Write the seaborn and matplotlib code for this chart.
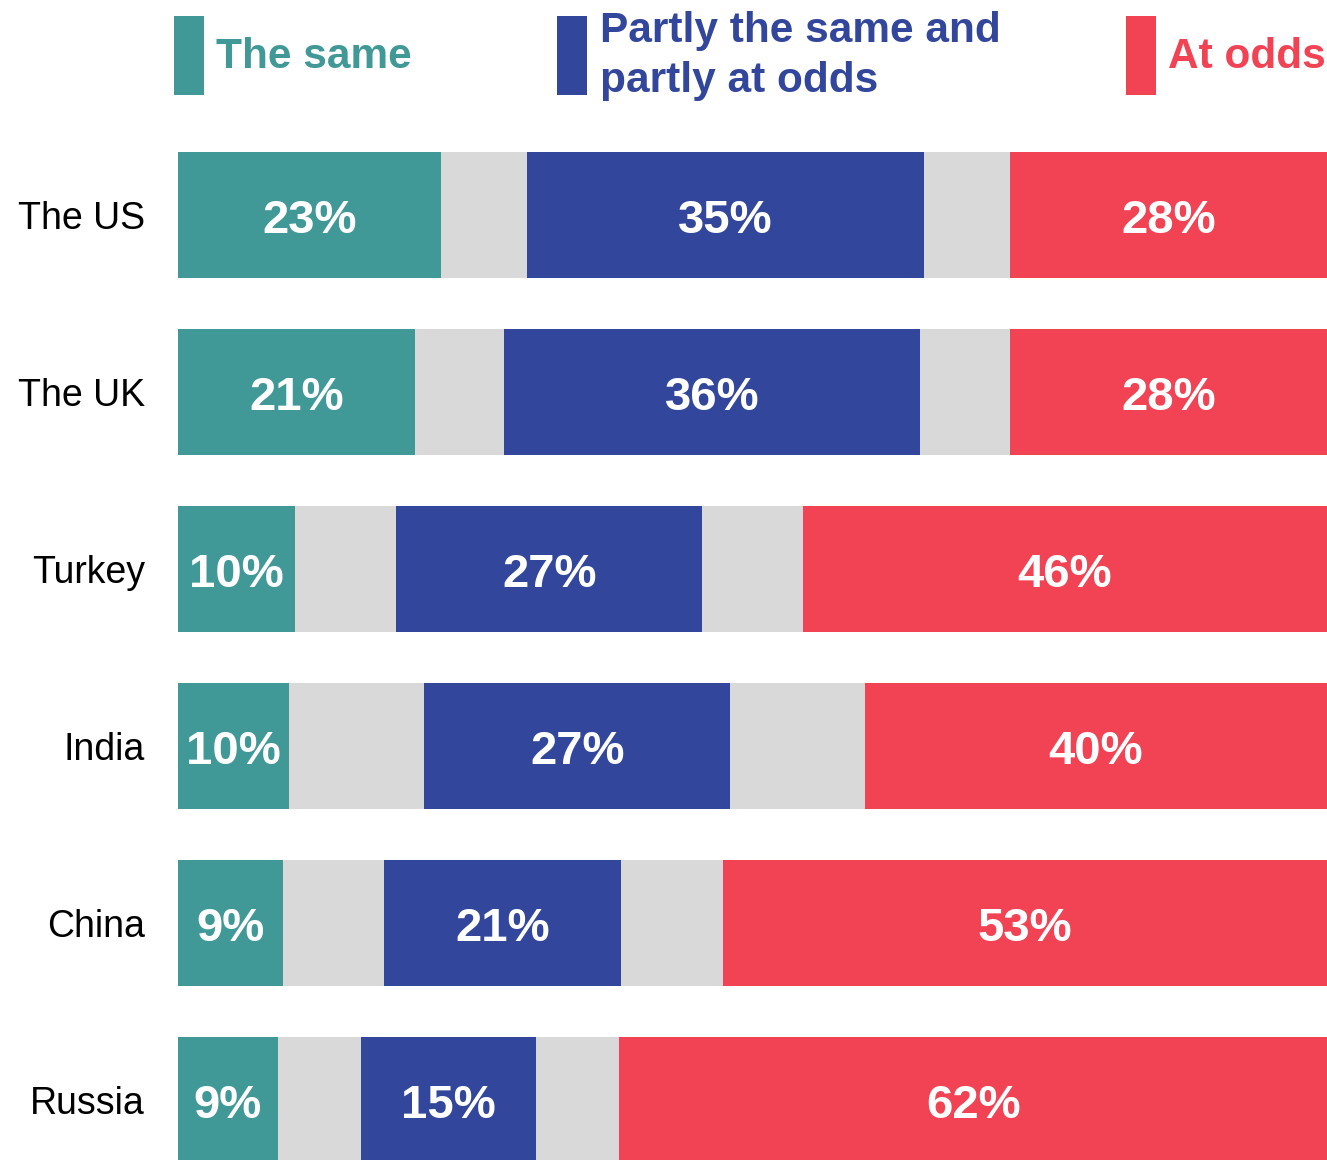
import numpy as np
import pandas as pd
import matplotlib
matplotlib.use("Agg")
import matplotlib.pyplot as plt
import seaborn as sns
from matplotlib.patches import Rectangle

sns.set_theme(style="white")
plt.rcParams['font.family'] = ['Liberation Sans', 'DejaVu Sans']

countries = ["The US", "The UK", "Turkey", "India", "China", "Russia"]
same = [22.9, 20.6, 10.2, 9.7, 9.1, 8.7]
partly = [34.6, 36.2, 26.6, 26.6, 20.6, 15.2]
odds = [27.6, 27.6, 45.6, 40.2, 52.6, 61.6]

TEAL = "#419997"
BLUE = "#32479b"
RED = "#f24354"
GREY = "#d9d9d9"

df = pd.DataFrame({"country": countries, "same": same, "partly": partly, "odds": odds})
df["gap"] = (100 - df["same"] - df["partly"] - df["odds"]) / 2
df["c1"] = df["same"]
df["c2"] = df["c1"] + df["gap"]
df["c3"] = df["c2"] + df["partly"]
df["c4"] = df["c3"] + df["gap"]
df["c5"] = df["c4"] + df["odds"]

W, H = 1327, 1160
fig = plt.figure(figsize=(W / 100, H / 100), dpi=100)
ax = fig.add_axes([178 / W, 0, 1149 / W, 1])

bw = 126 / 177
for col, colr in [("c5", RED), ("c4", GREY), ("c3", BLUE), ("c2", GREY), ("c1", TEAL)]:
    sns.barplot(data=df, x=col, y="country", orient="h", color=colr,
                width=bw, saturation=1, linewidth=0, ax=ax)

for i, r in df.iterrows():
    for start, val in [(0, r["same"]), (r["c2"], r["partly"]), (r["c4"], r["odds"])]:
        ax.text(start + val / 2, i + 0.035, "%d%%" % round(val), color="white",
                fontsize=34, fontweight="bold", ha="center", va="center")

ax.set_xlim(0, 100)
ax.set_ylim((H - 215) / 177, -215 / 177)
ax.set_xlabel("")
ax.set_ylabel("")
ax.set_xticks([])
ax.tick_params(axis="y", length=0, pad=24, labelsize=27, labelcolor="black")
for s in ax.spines.values():
    s.set_visible(False)

# legend at top
def fx(px):
    return px / W

def fy(py):
    return 1 - py / H

for x0, colr in [(174, TEAL), (557, BLUE), (1126, RED)]:
    fig.add_artist(Rectangle((fx(x0), fy(95)), fx(30), 79 / H, transform=fig.transFigure,
                             color=colr, lw=0))

fig.text(fx(216), fy(68), "The same", color=TEAL, fontsize=30.5, fontweight="bold", va="baseline")
fig.text(fx(600), fy(42), "Partly the same and", color=BLUE, fontsize=30.5, fontweight="bold", va="baseline")
fig.text(fx(600), fy(92), "partly at odds", color=BLUE, fontsize=30.5, fontweight="bold", va="baseline")
fig.text(fx(1168), fy(68), "At odds", color=RED, fontsize=30.5, fontweight="bold", va="baseline")

fig.savefig("out.png", dpi=100)
